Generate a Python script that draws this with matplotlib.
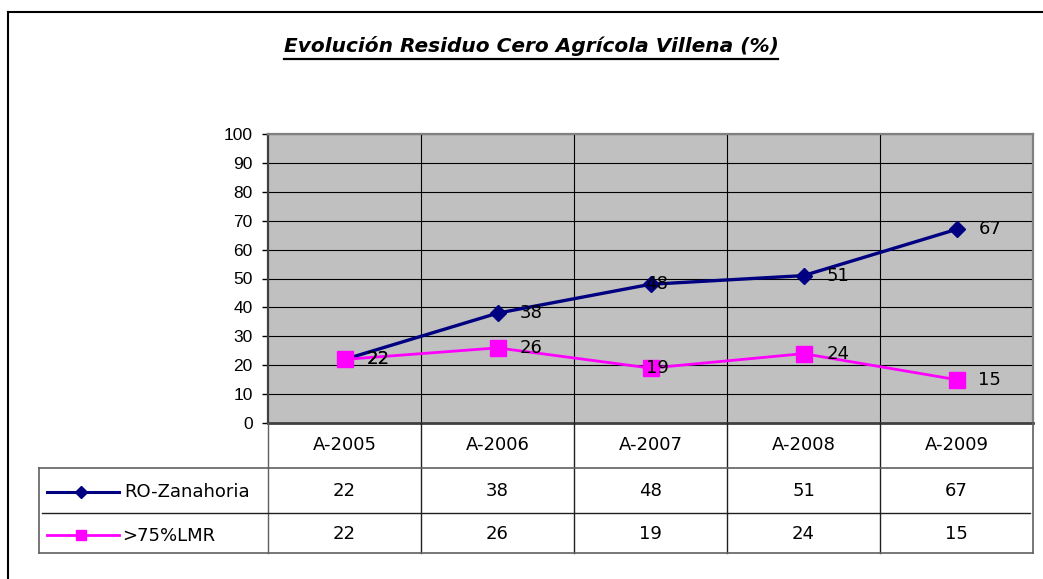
import matplotlib
matplotlib.use("Agg")
import matplotlib.pyplot as plt
from matplotlib.lines import Line2D
from matplotlib import transforms

plt.rcParams['font.family'] = ['Liberation Sans', 'DejaVu Sans']

# ---- data ----
categories = ["A-2005", "A-2006", "A-2007", "A-2008", "A-2009"]
series_names = ["RO-Zanahoria", ">75%LMR"]
ro_zanahoria = [22, 38, 48, 51, 67]
lmr75 = [22, 26, 19, 24, 15]
title = "Evolución Residuo Cero Agrícola Villena (%)"
y_ticks = [0, 10, 20, 30, 40, 50, 60, 70, 80, 90, 100]

# ---- styling ----
W, H = 1043, 579
DPI = 100
navy = "#000080"
magenta = "#FF00FF"
label_dx_px = [22, 22, -5, 23, 22]   # horizontal offset of data labels (px)
wide_font = ['DejaVu Sans']
txt_size = 13

fig = plt.figure(figsize=(W / DPI, H / DPI), dpi=DPI)
fig.patch.set_facecolor("white")

def fx(px):
    return px / W

def fy(py):
    return 1 - py / H

# plot area
L, R, T, B = 268, 1033, 134, 423
ax = fig.add_axes([fx(L), fy(B), fx(R) - fx(L), fy(T) - fy(B)])
ax.set_facecolor("#C0C0C0")
x = list(range(len(categories)))
ax.set_xlim(-0.5, len(categories) - 0.5)
ax.set_ylim(0, 100)
ax.set_yticks(y_ticks)
ax.set_yticklabels([str(v) for v in y_ticks], fontsize=12.5)
ax.tick_params(axis='y', length=4, width=1, color='black', pad=7)
ax.set_xticks([i + 0.5 for i in range(len(categories) - 1)])
ax.set_xticklabels([])
ax.tick_params(axis='x', length=0)
ax.grid(True, axis='both', color='black', linewidth=0.8)
ax.set_axisbelow(True)
for s in ax.spines.values():
    s.set_color('#808080')
    s.set_linewidth(1.6)
ax.spines['left'].set_color('#404040')
ax.spines['bottom'].set_color('#404040')
ax.spines['bottom'].set_linewidth(2)

ax.plot(x, ro_zanahoria, color=navy, linewidth=2.4, marker='D', markersize=8.5,
        markerfacecolor=navy, markeredgecolor=navy, zorder=3)
ax.plot(x, lmr75, color=magenta, linewidth=2.0, marker='s', markersize=11.5,
        markerfacecolor=magenta, markeredgecolor=magenta, zorder=4)

for series in (ro_zanahoria, lmr75):
    for i, v in enumerate(series):
        ax.annotate(str(v), (x[i], v), xytext=(label_dx_px[i] * 72 / DPI, 0),
                    textcoords='offset points', ha='left', va='center',
                    fontsize=txt_size, family=wide_font, color='black', zorder=5,
                    annotation_clip=False)

# ---- data table below the plot ----
bt = transforms.blended_transform_factory(ax.transData, fig.transFigure)
row_hdr = (B, 468)
row1 = (468, 513)
row2 = (513, 553)
tbl_left = 39
line_c = '#202020'

def hline(x0px, x1px, ypx, color=line_c, lw=1.0):
    fig.add_artist(Line2D([fx(x0px), fx(x1px)], [fy(ypx), fy(ypx)],
                          color=color, linewidth=lw, transform=fig.transFigure))

def vline(xpx, y0px, y1px, color=line_c, lw=1.0):
    fig.add_artist(Line2D([fx(xpx), fx(xpx)], [fy(y0px), fy(y1px)],
                          color=color, linewidth=lw, transform=fig.transFigure))

# vertical column separators (category boundaries)
for i in range(len(categories) + 1):
    xb = i - 0.5
    col = line_c if 0 < i < len(categories) else '#606060'
    fig.add_artist(Line2D([xb, xb], [fy(B), fy(row2[1])], color=col,
                          linewidth=1.2 if i == len(categories) else 1.0, transform=bt))
hline(tbl_left, R, row1[0], color='#606060', lw=1.2)
hline(42, R - 3, row2[0])
hline(tbl_left, R, row2[1], color='#606060', lw=1.2)
vline(tbl_left, row1[0], row2[1], color='#606060', lw=1.2)

for i, c in enumerate(categories):
    fig.text(i, fy(sum(row_hdr) / 2), c, transform=bt, ha='center', va='center',
             fontsize=txt_size, family=wide_font)
    fig.text(i, fy(sum(row1) / 2), str(ro_zanahoria[i]), transform=bt,
             ha='center', va='center', fontsize=txt_size, family=wide_font)
    fig.text(i, fy(sum(row2) / 2 + 1), str(lmr75[i]), transform=bt,
             ha='center', va='center', fontsize=txt_size, family=wide_font)

# legend keys in the table
ly1, ly2 = 492, 535
fig.add_artist(Line2D([fx(47), fx(119)], [fy(ly1), fy(ly1)], color=navy, linewidth=2.2,
                      transform=fig.transFigure))
fig.add_artist(Line2D([fx(81)], [fy(ly1)], color=navy, marker='D', markersize=6.5,
                      transform=fig.transFigure))
fig.add_artist(Line2D([fx(47), fx(119)], [fy(ly2), fy(ly2)], color=magenta, linewidth=2.0,
                      transform=fig.transFigure))
fig.add_artist(Line2D([fx(81)], [fy(ly2)], color=magenta, marker='s', markersize=7,
                      transform=fig.transFigure))
fig.text(fx(124), fy(ly1), series_names[0], ha='left', va='center',
         fontsize=txt_size, family=wide_font)
fig.text(fx(122), fy(ly2 + 1), series_names[1], ha='left', va='center',
         fontsize=txt_size, family=wide_font)

# outer chart border (top and left edges visible)
hline(8, W, 12, color='black', lw=1.5)
vline(8, 12, H, color='black', lw=1.5)

# title with underline
tt = fig.text(fx(531), fy(52), title, ha='center', va='baseline', fontsize=14.5,
              fontweight='bold', fontstyle='italic', family=wide_font)
fig.canvas.draw()
bb = tt.get_window_extent()
uy = fy(59)
fig.add_artist(Line2D([bb.x0 / W, bb.x1 / W], [uy, uy], color='black',
                      linewidth=1.6, transform=fig.transFigure))

fig.savefig("out.png", dpi=DPI, facecolor="white")
